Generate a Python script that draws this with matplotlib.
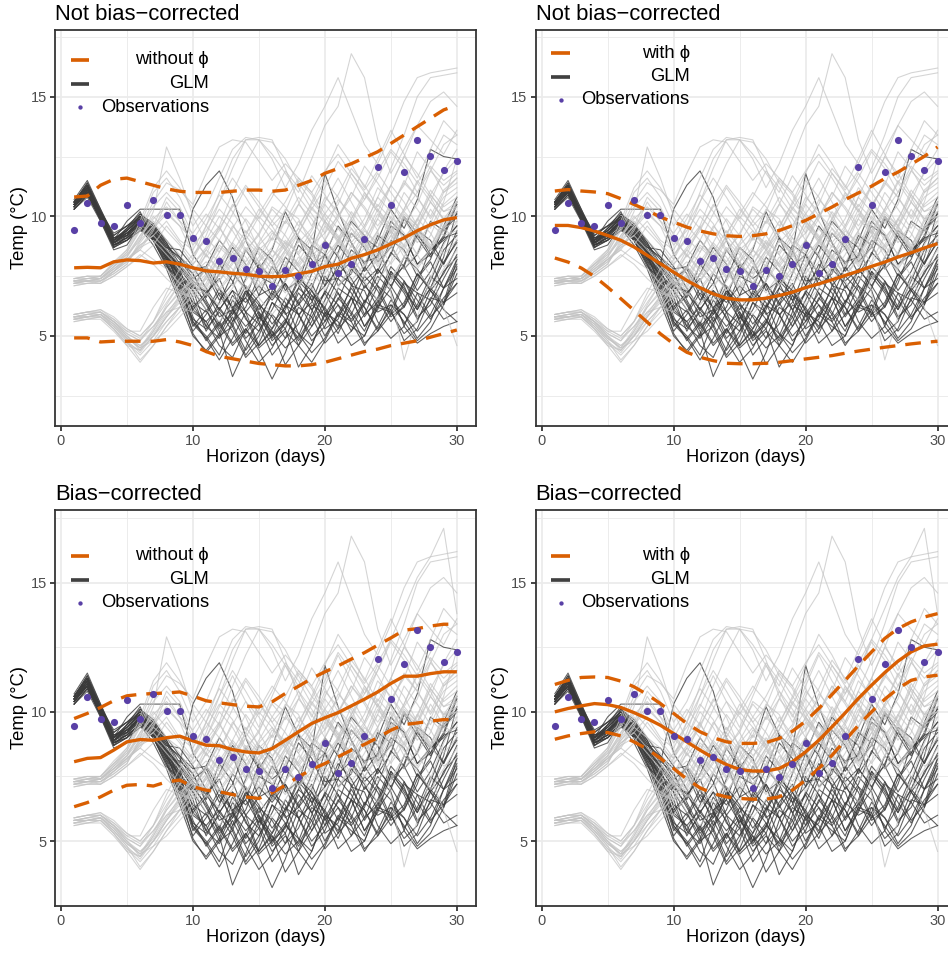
import matplotlib
matplotlib.use("Agg")
import matplotlib.pyplot as plt
from matplotlib.lines import Line2D

plt.rcParams['font.family'] = ['Liberation Sans', 'DejaVu Sans']

W, H, DPI = 948, 953, 120

# ---------------------------------------------------------------- data
days = list(range(1, 31))

obs = [9.44, 10.56, 9.72, 9.61, 10.47, 9.72, 10.70, 10.04, 10.04, 9.08,
       8.95, 8.13, 8.24, 7.80, 7.71, 7.07, 7.77, 7.49, 7.99, 8.80,
       7.63, 8.02, 9.05, 12.06, 10.49, 11.85, 13.18, 12.52, 11.94, 12.30]

# EMOS forecasts: mean and 95% bounds
raw_nophi_mean = [7.85, 7.87, 7.85, 8.10, 8.18, 8.15, 8.05, 8.10, 8.00, 7.85,
                  7.72, 7.68, 7.62, 7.58, 7.50, 7.48, 7.50, 7.60, 7.70, 7.90,
                  8.00, 8.25, 8.40, 8.60, 8.85, 9.10, 9.40, 9.65, 9.85, 9.95]
raw_nophi_hi = [10.81, 10.85, 11.30, 11.55, 11.60, 11.45, 11.30, 11.15, 11.05, 11.00,
                11.00, 11.00, 11.05, 11.10, 11.10, 11.05, 11.10, 11.30, 11.50, 11.80,
                12.00, 12.20, 12.45, 12.70, 13.05, 13.40, 13.75, 14.10, 14.45, 14.65]
raw_nophi_lo = [4.92, 4.92, 4.75, 4.78, 4.78, 4.78, 4.78, 4.85, 4.75, 4.60,
                4.35, 4.15, 4.05, 3.95, 3.85, 3.80, 3.75, 3.75, 3.80, 3.90,
                4.05, 4.20, 4.35, 4.45, 4.60, 4.70, 4.80, 4.95, 5.10, 5.25]

raw_phi_mean = [9.62, 9.62, 9.53, 9.39, 9.20, 9.00, 8.72, 8.37, 8.02, 7.67,
                7.32, 7.02, 6.76, 6.58, 6.51, 6.51, 6.58, 6.69, 6.83, 7.02,
                7.18, 7.35, 7.53, 7.71, 7.91, 8.09, 8.30, 8.48, 8.68, 8.86]
raw_phi_hi = [11.06, 11.12, 11.06, 11.02, 10.95, 10.74, 10.50, 10.25, 9.97, 9.76,
              9.55, 9.39, 9.27, 9.19, 9.16, 9.19, 9.27, 9.41, 9.61, 9.83,
              10.11, 10.39, 10.70, 10.98, 11.26, 11.58, 11.85, 12.18, 12.51, 12.90]
raw_phi_lo = [8.26, 8.09, 7.84, 7.49, 7.04, 6.56, 6.07, 5.58, 5.09, 4.67,
              4.32, 4.11, 3.97, 3.86, 3.84, 3.84, 3.86, 3.90, 3.97, 4.04,
              4.11, 4.18, 4.28, 4.37, 4.45, 4.53, 4.60, 4.67, 4.73, 4.78]

bc_nophi_mean = [8.07, 8.20, 8.23, 8.52, 8.84, 8.93, 8.90, 9.00, 9.06, 8.88,
                 8.71, 8.69, 8.54, 8.45, 8.41, 8.58, 8.90, 9.23, 9.55, 9.77,
                 9.97, 10.23, 10.49, 10.77, 11.10, 11.38, 11.38, 11.48, 11.55, 11.55]
bc_nophi_hi = [9.74, 9.94, 10.17, 10.43, 10.62, 10.68, 10.71, 10.73, 10.77, 10.61,
               10.43, 10.35, 10.28, 10.22, 10.19, 10.39, 10.71, 10.99, 11.29, 11.55,
               11.78, 12.04, 12.29, 12.58, 12.86, 13.16, 13.22, 13.32, 13.39, 13.39]
bc_nophi_lo = [6.33, 6.49, 6.71, 6.97, 7.16, 7.19, 7.13, 7.29, 7.36, 7.10,
               6.97, 6.91, 6.80, 6.71, 6.65, 6.87, 7.16, 7.49, 7.77, 8.00,
               8.26, 8.52, 8.74, 9.00, 9.29, 9.51, 9.57, 9.64, 9.70, 9.70]

bc_phi_mean = [10.00, 10.13, 10.23, 10.32, 10.28, 10.17, 9.97, 9.74, 9.48, 9.16,
               8.84, 8.52, 8.22, 7.96, 7.77, 7.71, 7.71, 7.81, 8.07, 8.45,
               8.90, 9.42, 9.96, 10.52, 11.03, 11.52, 11.96, 12.32, 12.55, 12.62]
bc_phi_hi = [11.06, 11.22, 11.33, 11.35, 11.33, 11.19, 10.97, 10.67, 10.32, 9.94,
             9.55, 9.23, 9.00, 8.84, 8.78, 8.78, 8.81, 8.97, 9.25, 9.64,
             10.13, 10.67, 11.22, 11.78, 12.32, 12.84, 13.22, 13.48, 13.67, 13.80]
bc_phi_lo = [8.94, 9.07, 9.16, 9.23, 9.20, 9.07, 8.84, 8.56, 8.20, 7.81,
             7.40, 7.06, 6.84, 6.71, 6.65, 6.62, 6.62, 6.71, 6.97, 7.36,
             7.81, 8.32, 8.90, 9.48, 10.00, 10.49, 10.90, 11.22, 11.35, 11.42]

# GLM-driven ensemble members (dark)
glm_members = [
    [10.5, 11.2, 10.0, 8.9, 9.2, 9.8, 9.3, 8.4, 7.2, 5.6, 5.0, 4.2, 5.6, 6.8, 5.9, 4.8, 5.3, 6.5, 7.2, 6.0, 5.1, 6.3, 7.5, 6.9, 5.8, 6.2, 7.4, 8.1, 7.0, 8.2],
    [10.4, 11.0, 9.8, 8.7, 9.0, 9.6, 9.1, 8.1, 6.8, 6.2, 6.8, 7.4, 6.1, 4.9, 5.5, 6.9, 6.4, 5.1, 4.6, 5.9, 6.8, 6.0, 5.2, 6.5, 7.7, 6.9, 6.1, 7.3, 8.6, 9.2],
    [10.6, 11.4, 10.2, 9.0, 9.4, 10.0, 9.6, 8.8, 7.6, 6.0, 5.6, 4.6, 4.1, 5.3, 4.4, 3.2, 4.3, 5.8, 6.9, 6.1, 5.4, 6.6, 7.9, 7.1, 5.9, 6.4, 7.6, 6.9, 6.3, 7.9],
    [10.3, 10.9, 9.9, 8.8, 9.5, 10.2, 9.0, 7.9, 7.4, 6.9, 6.1, 5.2, 3.3, 4.5, 5.8, 5.2, 3.8, 4.6, 6.0, 7.5, 6.8, 5.6, 6.3, 7.8, 7.1, 6.2, 7.2, 8.7, 8.0, 9.4],
    [10.7, 11.5, 10.3, 9.2, 9.6, 9.9, 9.4, 8.6, 7.4, 5.8, 4.8, 5.5, 6.7, 6.0, 4.6, 5.3, 6.6, 5.9, 5.0, 5.6, 7.0, 6.6, 5.4, 6.1, 7.6, 7.0, 6.1, 7.0, 8.3, 10.2],
    [10.5, 11.1, 10.1, 9.1, 9.3, 9.7, 9.5, 8.9, 8.0, 10.3, 11.3, 11.9, 10.8, 9.0, 7.8, 8.6, 10.2, 9.1, 7.9, 8.4, 9.6, 8.9, 8.0, 9.0, 10.3, 9.5, 10.7, 12.8, 12.5, 12.4],
    [10.4, 11.0, 10.0, 9.0, 9.8, 10.3, 10.3, 10.3, 10.3, 8.4, 7.6, 6.5, 7.2, 8.6, 7.8, 6.6, 7.3, 8.8, 8.2, 7.1, 7.8, 9.3, 8.7, 7.6, 8.4, 9.9, 9.1, 8.3, 9.1, 10.5],
    [10.6, 11.3, 10.1, 8.9, 9.1, 9.5, 8.8, 7.8, 6.4, 5.0, 4.4, 5.1, 6.5, 5.8, 4.5, 5.0, 6.3, 5.9, 4.8, 5.4, 6.6, 5.9, 4.7, 5.2, 6.3, 5.6, 4.8, 5.3, 6.3, 7.6],
    [10.5, 11.2, 10.0, 8.8, 9.0, 9.4, 9.2, 8.2, 8.1, 7.6, 6.6, 8.0, 7.3, 6.0, 6.7, 7.9, 7.1, 5.9, 6.4, 7.8, 8.8, 8.1, 7.0, 7.7, 9.0, 8.6, 7.5, 8.2, 9.6, 10.8],
    [10.3, 10.8, 9.8, 8.6, 8.8, 9.6, 9.0, 8.0, 6.9, 5.7, 5.3, 6.0, 5.2, 4.1, 4.7, 5.9, 5.3, 3.7, 4.6, 6.0, 5.6, 4.6, 5.0, 6.3, 6.1, 4.8, 5.3, 6.6, 6.4, 6.8],
    [10.6, 11.3, 10.2, 9.3, 9.6, 10.0, 9.3, 8.5, 7.3, 6.1, 6.7, 7.6, 8.7, 8.0, 6.7, 7.0, 8.3, 7.7, 6.5, 7.1, 8.5, 9.8, 9.2, 8.1, 8.7, 10.0, 9.3, 8.4, 9.2, 10.6],
    [10.4, 11.1, 10.0, 8.8, 9.1, 9.8, 9.2, 8.3, 7.1, 5.5, 4.9, 4.0, 4.9, 6.0, 5.5, 4.2, 4.9, 6.2, 5.8, 4.7, 5.3, 6.6, 6.2, 5.2, 5.9, 7.2, 6.8, 5.8, 6.4, 8.2],
    [10.5, 11.0, 9.9, 8.7, 9.2, 10.1, 9.6, 8.7, 8.3, 7.8, 7.9, 7.0, 5.6, 6.2, 7.5, 7.2, 5.9, 6.3, 7.6, 9.0, 8.3, 7.1, 7.8, 9.2, 8.8, 7.8, 8.4, 9.8, 9.4, 10.0],
    [10.6, 11.4, 10.3, 9.1, 9.4, 9.9, 9.4, 8.4, 7.0, 5.4, 6.1, 5.0, 5.4, 6.9, 6.3, 5.0, 5.5, 7.0, 6.5, 5.3, 5.7, 7.1, 6.9, 5.6, 4.9, 5.4, 6.8, 6.5, 5.7, 6.0],
    [10.4, 11.0, 9.9, 8.9, 9.3, 9.7, 9.1, 8.2, 7.6, 7.0, 6.9, 5.8, 6.1, 7.4, 8.7, 8.2, 6.9, 7.3, 8.8, 8.4, 7.1, 7.6, 9.1, 8.7, 7.4, 7.9, 9.4, 9.0, 8.0, 9.0],
    [10.5, 11.2, 10.1, 9.0, 9.5, 10.0, 9.5, 8.6, 7.5, 6.1, 5.6, 6.2, 5.4, 4.2, 5.0, 6.4, 6.0, 4.6, 3.9, 4.8, 5.9, 5.4, 5.0, 6.2, 6.0, 5.1, 5.6, 6.9, 6.1, 5.6],
    [10.6, 11.3, 10.1, 9.0, 9.2, 9.6, 9.0, 8.0, 6.6, 5.2, 5.9, 6.8, 6.2, 6.6, 8.0, 7.4, 7.8, 9.1, 8.6, 7.3, 7.4, 8.6, 8.1, 8.3, 9.6, 9.2, 8.0, 8.4, 9.5, 10.1],
    [10.3, 10.9, 9.9, 8.8, 9.0, 9.6, 9.2, 8.3, 7.2, 5.6, 4.9, 5.6, 4.7, 5.3, 4.6, 5.2, 4.5, 5.0, 6.3, 5.9, 4.7, 5.2, 6.5, 6.0, 6.3, 5.9, 4.9, 5.6, 7.0, 7.8],
    [10.5, 11.1, 10.0, 8.9, 9.4, 9.9, 9.4, 8.5, 8.0, 7.3, 6.8, 6.1, 6.9, 6.4, 7.1, 6.5, 7.2, 6.3, 7.0, 8.4, 7.6, 8.1, 7.3, 7.8, 7.1, 8.0, 9.2, 8.6, 9.0, 9.6],
    [10.6, 11.2, 10.2, 9.2, 9.6, 10.1, 9.7, 8.9, 7.8, 6.3, 5.4, 6.4, 7.6, 7.0, 5.6, 4.6, 5.2, 4.6, 5.4, 6.5, 7.6, 7.2, 5.9, 6.4, 7.7, 7.1, 5.8, 6.3, 7.4, 8.4],
    [10.4, 11.0, 10.1, 9.0, 9.3, 9.8, 9.3, 8.4, 7.9, 7.0, 7.9, 9.0, 8.3, 7.0, 6.1, 6.8, 6.2, 7.0, 8.5, 11.8, 10.2, 8.9, 7.7, 8.4, 9.8, 9.2, 8.0, 8.6, 9.1, 9.3],
    [10.5, 11.2, 10.0, 8.9, 9.3, 9.8, 9.2, 8.2, 6.9, 5.1, 4.3, 5.0, 6.1, 5.4, 6.0, 5.3, 6.1, 7.3, 6.7, 5.6, 6.3, 5.7, 6.4, 7.5, 6.9, 5.4, 4.7, 5.1, 5.4, 5.6],
    [10.5, 11.1, 10.0, 8.8, 9.1, 9.5, 9.0, 8.6, 7.9, 7.2, 6.3, 5.4, 6.0, 7.1, 6.4, 5.5, 6.2, 7.4, 6.9, 5.8, 6.5, 7.8, 7.2, 6.2, 7.0, 8.3, 7.8, 6.9, 7.6, 8.7],
    [10.4, 11.0, 9.9, 8.7, 9.0, 9.4, 9.6, 9.0, 8.3, 7.6, 6.5, 5.5, 4.6, 5.2, 6.3, 5.8, 4.9, 5.5, 6.7, 6.2, 5.3, 5.9, 7.1, 6.5, 5.6, 6.3, 7.6, 7.0, 6.4, 7.2],
    [10.6, 11.3, 10.2, 9.1, 9.2, 9.9, 9.0, 8.1, 7.6, 6.9, 5.4, 4.9, 5.8, 4.8, 3.9, 4.5, 5.6, 5.1, 4.3, 4.9, 6.0, 5.6, 4.6, 5.4, 6.5, 5.9, 5.2, 5.9, 7.0, 7.4],
    [10.5, 11.2, 10.1, 8.9, 9.2, 9.8, 9.5, 8.8, 8.2, 7.4, 7.8, 6.7, 5.9, 6.6, 5.7, 6.7, 7.8, 7.2, 6.1, 6.8, 8.0, 7.4, 6.4, 7.2, 8.5, 7.9, 6.9, 7.7, 8.9, 9.6],
    [10.3, 10.9, 9.9, 8.9, 9.3, 9.6, 9.1, 8.3, 7.7, 6.6, 5.2, 6.1, 5.5, 4.4, 5.2, 6.4, 5.7, 4.8, 5.6, 6.9, 6.3, 5.2, 5.9, 7.1, 6.6, 5.5, 6.3, 7.5, 7.0, 8.0],
    [10.6, 11.3, 10.1, 9.0, 9.5, 10.0, 9.4, 8.7, 8.6, 7.9, 7.0, 6.1, 6.9, 5.7, 5.2, 6.1, 7.2, 6.4, 5.4, 6.2, 7.4, 6.8, 5.8, 6.6, 7.9, 7.3, 6.2, 7.0, 8.1, 8.9],
    [10.5, 11.0, 10.0, 8.8, 9.1, 9.7, 9.3, 8.5, 7.4, 6.4, 6.0, 7.0, 6.2, 5.1, 5.9, 4.9, 5.6, 6.8, 6.1, 5.0, 5.9, 7.0, 6.2, 5.3, 6.1, 7.3, 6.5, 5.7, 6.6, 7.2],
    [10.4, 11.1, 10.0, 9.0, 9.4, 9.9, 9.2, 8.6, 7.8, 7.1, 6.4, 5.3, 5.9, 6.9, 6.0, 5.0, 5.7, 4.9, 5.8, 6.8, 5.8, 6.6, 5.4, 6.3, 7.5, 6.8, 5.7, 6.5, 7.7, 8.3],
]

# NWP ensemble members (light)
ens_members = [
    [7.3, 7.3, 7.4, 7.8, 8.2, 8.6, 9.4, 10.6, 9.8, 8.8, 9.4, 10.3, 9.7, 8.6, 9.2, 10.4, 10.0, 8.9, 9.5, 10.8, 10.2, 9.1, 9.9, 11.2, 10.6, 9.7, 10.5, 11.9, 11.3, 11.8],
    [7.2, 7.3, 7.3, 7.6, 8.0, 9.0, 10.2, 12.9, 11.6, 10.0, 8.9, 9.6, 8.5, 7.9, 8.8, 9.4, 8.7, 8.0, 8.7, 9.8, 9.1, 8.2, 8.9, 10.1, 9.4, 8.6, 9.5, 10.6, 9.9, 10.2],
    [7.4, 7.5, 7.4, 7.9, 8.4, 9.2, 9.8, 9.0, 8.4, 7.6, 8.6, 9.4, 10.5, 9.8, 8.6, 9.1, 10.3, 9.9, 8.8, 9.3, 10.7, 10.1, 9.0, 9.9, 11.3, 10.6, 9.6, 10.6, 11.9, 12.8],
    [7.1, 7.2, 7.2, 7.5, 7.9, 8.4, 8.0, 7.4, 6.9, 6.6, 7.4, 8.3, 7.8, 6.9, 7.6, 8.6, 8.1, 7.1, 7.7, 8.9, 8.4, 7.3, 8.0, 9.3, 8.8, 7.8, 8.5, 9.7, 9.2, 9.4],
    [7.3, 7.4, 7.5, 8.1, 8.6, 9.6, 11.0, 11.6, 10.8, 9.6, 10.4, 11.6, 12.8, 13.3, 13.2, 12.4, 11.2, 12.2, 13.6, 14.6, 15.8, 14.4, 13.0, 12.2, 13.4, 14.8, 15.8, 16.0, 16.1, 16.2],
    [7.2, 7.3, 7.2, 7.7, 8.1, 8.8, 9.2, 8.6, 8.0, 7.4, 7.0, 7.9, 8.8, 8.0, 7.1, 7.9, 9.0, 8.4, 7.6, 8.5, 9.5, 8.9, 7.9, 8.7, 10.0, 9.3, 8.4, 9.2, 10.5, 11.0],
    [7.4, 7.4, 7.5, 8.0, 8.5, 9.4, 10.4, 11.0, 10.4, 9.2, 8.3, 9.0, 10.1, 11.2, 10.4, 9.6, 10.2, 11.5, 10.9, 9.8, 10.5, 11.8, 11.0, 10.2, 11.3, 12.5, 13.8, 13.2, 12.6, 13.6],
    [7.3, 7.3, 7.4, 7.7, 8.2, 8.6, 8.2, 7.8, 7.2, 6.8, 7.5, 7.0, 7.7, 8.7, 8.1, 7.2, 7.9, 9.0, 8.4, 7.4, 8.1, 9.3, 8.8, 7.9, 8.7, 10.0, 9.5, 8.6, 9.4, 10.6],
    [7.2, 7.2, 7.3, 7.6, 8.0, 8.9, 9.6, 10.2, 9.6, 8.4, 9.0, 10.0, 9.4, 8.5, 9.3, 10.3, 9.7, 10.5, 11.7, 10.9, 10.0, 10.8, 12.1, 11.4, 10.5, 11.3, 12.7, 12.0, 11.0, 11.6],
    [7.3, 7.4, 7.4, 7.9, 8.3, 9.2, 10.0, 9.4, 8.8, 8.0, 8.6, 8.1, 8.9, 9.9, 9.2, 8.3, 8.9, 8.5, 9.4, 10.5, 9.8, 8.9, 9.6, 10.8, 10.2, 9.1, 9.8, 11.1, 10.4, 10.8],
    [7.1, 7.2, 7.2, 7.5, 7.9, 8.3, 8.8, 9.6, 8.9, 8.2, 9.6, 11.0, 12.4, 13.2, 13.2, 12.6, 11.8, 11.0, 12.4, 13.8, 14.6, 16.8, 15.8, 13.2, 11.8, 12.8, 13.8, 14.8, 15.2, 14.6],
    [7.4, 7.5, 7.5, 8.0, 8.4, 9.0, 9.6, 10.8, 10.2, 9.0, 8.4, 7.8, 8.5, 9.4, 8.7, 8.0, 8.8, 9.8, 9.1, 8.3, 9.0, 10.2, 9.5, 8.7, 9.7, 11.0, 10.3, 9.5, 10.6, 12.4],
    [7.3, 7.3, 7.4, 7.8, 8.2, 8.8, 9.2, 9.8, 9.0, 8.6, 9.6, 9.0, 8.3, 9.0, 10.0, 9.4, 8.6, 9.3, 10.3, 9.8, 9.0, 9.7, 10.9, 10.2, 9.3, 10.3, 11.4, 10.6, 9.9, 10.0],
    [7.2, 7.3, 7.3, 7.7, 8.1, 8.7, 9.0, 8.4, 7.8, 7.2, 7.8, 8.7, 8.2, 7.4, 8.1, 9.1, 8.6, 7.7, 8.4, 9.6, 9.0, 8.0, 8.7, 9.9, 9.3, 8.3, 9.1, 10.3, 9.5, 9.0],
    [7.3, 7.4, 7.4, 7.9, 8.5, 9.5, 10.6, 11.4, 11.1, 10.5, 11.8, 12.9, 13.2, 13.1, 12.3, 11.5, 12.2, 11.6, 11.0, 11.9, 12.6, 11.8, 11.1, 11.9, 12.8, 12.2, 11.4, 12.3, 13.4, 13.0],
    [7.2, 7.3, 7.3, 7.7, 8.2, 8.7, 9.5, 10.1, 9.6, 9.0, 9.9, 10.9, 10.2, 9.3, 10.1, 11.0, 10.4, 9.6, 10.5, 11.5, 10.8, 9.9, 10.7, 11.8, 11.0, 10.2, 11.0, 12.1, 11.5, 11.9],
    [7.3, 7.3, 7.4, 7.8, 8.3, 9.1, 9.9, 10.4, 9.8, 9.3, 10.1, 9.5, 10.4, 11.3, 10.6, 9.8, 10.6, 11.6, 11.0, 10.1, 10.9, 12.0, 11.3, 10.4, 11.3, 12.5, 11.8, 10.9, 11.8, 12.4],
    [7.4, 7.5, 7.5, 8.0, 8.6, 9.8, 11.2, 11.9, 11.2, 10.3, 9.6, 10.6, 11.6, 10.8, 9.9, 10.8, 11.9, 11.2, 10.3, 11.2, 12.3, 11.6, 10.7, 11.6, 12.7, 12.0, 11.0, 11.9, 13.0, 13.4],
    [5.8, 5.9, 6.0, 5.6, 5.0, 4.6, 5.0, 5.6, 6.2, 7.0, 7.8, 8.8, 8.3, 7.5, 8.3, 9.3, 8.9, 7.9, 8.6, 9.8, 9.2, 8.3, 9.1, 10.3, 9.6, 8.7, 9.6, 10.9, 10.2, 10.4],
    [5.7, 5.8, 5.9, 5.4, 4.8, 4.0, 4.6, 5.4, 6.0, 6.8, 7.4, 6.9, 7.6, 8.6, 8.0, 7.2, 8.0, 9.0, 8.5, 7.6, 8.4, 9.5, 8.9, 8.0, 8.8, 10.1, 9.6, 8.7, 9.8, 10.0],
    [5.9, 6.0, 6.1, 5.8, 5.3, 5.0, 5.6, 6.4, 7.2, 7.6, 8.4, 7.7, 7.1, 7.8, 8.7, 8.1, 7.3, 8.1, 9.1, 8.5, 7.6, 8.3, 9.4, 8.9, 8.0, 8.8, 9.9, 9.3, 8.4, 9.0],
    [5.6, 5.7, 5.8, 5.4, 4.9, 4.5, 5.2, 6.0, 6.6, 7.2, 6.7, 7.3, 8.3, 7.7, 6.9, 7.5, 8.5, 7.9, 7.1, 7.9, 9.0, 8.4, 7.5, 8.3, 9.4, 8.8, 7.9, 8.7, 9.9, 10.6],
    [5.8, 5.9, 6.0, 5.7, 5.2, 5.2, 6.2, 7.0, 6.8, 6.6, 7.5, 8.5, 9.6, 9.0, 8.1, 8.7, 9.8, 9.2, 8.3, 9.0, 10.1, 9.5, 8.6, 9.4, 10.6, 9.9, 8.9, 9.7, 11.0, 11.4],
    [5.7, 5.8, 5.8, 5.3, 4.7, 4.2, 4.8, 5.6, 6.2, 6.0, 6.8, 6.3, 7.0, 7.9, 7.3, 6.6, 7.3, 8.3, 7.8, 6.9, 7.7, 8.8, 8.1, 7.3, 8.1, 9.2, 8.4, 7.5, 6.2, 4.6],
    [5.9, 6.0, 6.0, 5.6, 5.1, 4.8, 5.4, 6.2, 6.8, 7.4, 8.4, 9.6, 11.0, 12.2, 13.2, 13.1, 12.4, 11.4, 10.6, 11.8, 13.0, 12.2, 11.2, 12.4, 13.6, 12.6, 11.6, 12.8, 14.0, 13.4],
    [5.8, 5.8, 5.9, 5.5, 5.0, 4.4, 5.0, 5.8, 6.4, 7.0, 6.1, 5.6, 6.3, 7.1, 6.6, 5.9, 6.6, 7.5, 7.0, 6.3, 7.0, 7.9, 7.3, 6.5, 7.3, 8.3, 7.7, 7.0, 7.8, 8.6],
    [5.6, 5.7, 5.7, 5.2, 4.6, 4.4, 5.0, 5.8, 6.6, 7.4, 7.9, 7.3, 8.1, 9.2, 10.3, 9.6, 8.7, 9.5, 10.6, 10.0, 9.1, 9.9, 11.0, 10.3, 9.4, 10.3, 11.5, 10.8, 9.8, 10.4],
    [5.8, 5.9, 5.9, 5.6, 5.2, 4.9, 5.4, 6.0, 6.2, 6.6, 7.2, 8.3, 7.6, 6.9, 7.7, 8.6, 7.9, 7.1, 7.9, 9.0, 8.4, 7.6, 8.4, 9.4, 6.8, 4.0, 5.8, 7.4, 8.8, 9.8],
    [5.7, 5.8, 5.9, 5.5, 4.9, 4.5, 4.8, 5.2, 5.8, 6.4, 7.1, 7.9, 8.9, 8.3, 7.4, 8.2, 9.3, 10.5, 9.9, 9.0, 9.9, 11.0, 10.3, 9.4, 10.3, 11.5, 10.8, 10.0, 11.1, 11.6],
    [5.9, 6.0, 6.1, 5.7, 5.3, 5.0, 5.6, 6.6, 7.4, 8.2, 9.2, 10.6, 12.0, 13.2, 13.3, 13.2, 12.0, 10.6, 9.6, 10.6, 11.6, 10.6, 9.6, 10.8, 12.0, 13.4, 15.0, 15.8, 15.9, 16.0],
    [5.8, 5.8, 5.9, 5.4, 4.8, 4.3, 5.0, 5.8, 6.5, 7.0, 7.6, 7.0, 6.5, 7.3, 8.1, 7.4, 6.8, 7.6, 8.6, 7.9, 7.1, 7.9, 9.0, 8.3, 7.4, 8.3, 9.4, 8.7, 7.9, 8.2],
    [5.7, 5.7, 5.8, 5.3, 4.6, 3.9, 4.6, 5.4, 6.2, 7.0, 7.9, 7.3, 8.0, 9.0, 8.4, 7.6, 8.3, 9.3, 10.4, 9.7, 8.9, 9.7, 8.9, 8.1, 9.0, 10.0, 9.3, 8.6, 9.5, 9.8],
    [5.8, 5.9, 6.0, 5.6, 5.1, 4.8, 5.6, 6.8, 7.8, 8.4, 9.1, 8.5, 9.5, 10.4, 9.8, 9.0, 9.8, 10.8, 10.1, 9.3, 10.0, 11.0, 10.4, 9.6, 10.4, 11.4, 10.8, 9.9, 10.8, 11.2],
    [5.7, 5.8, 5.8, 5.3, 4.7, 4.4, 5.2, 6.2, 6.9, 7.3, 6.9, 7.6, 8.4, 7.8, 7.0, 7.7, 8.6, 8.0, 7.3, 8.0, 8.9, 8.3, 7.5, 8.2, 9.2, 8.5, 7.8, 8.6, 9.6, 10.2],
    [5.9, 6.0, 6.0, 5.6, 5.0, 4.5, 5.3, 6.3, 7.2, 8.0, 8.7, 9.5, 8.8, 8.1, 8.9, 9.8, 9.2, 8.4, 9.2, 10.1, 9.5, 8.7, 9.5, 10.5, 9.9, 9.0, 9.9, 10.9, 10.2, 10.6],
    [5.8, 5.8, 5.9, 5.5, 4.9, 4.6, 5.1, 5.9, 6.7, 7.6, 8.1, 7.5, 8.3, 9.2, 8.5, 7.8, 8.6, 9.5, 8.9, 8.1, 8.9, 9.9, 9.2, 8.4, 9.2, 10.2, 9.6, 8.8, 9.6, 10.0],
]

# member present in the bias-corrected ensemble only
ens_bc_extra = [7.3, 7.4, 7.4, 7.8, 8.3, 8.9, 9.4, 9.0, 8.6, 8.2, 9.0, 10.2, 11.4, 10.4, 9.4,
                10.6, 11.8, 10.8, 9.8, 11.0, 12.2, 11.2, 10.4, 11.6, 12.8, 14.0, 15.2, 16.0, 17.1, 13.8]

titles = ["Not bias\u2212corrected", "Not bias\u2212corrected", "Bias\u2212corrected", "Bias\u2212corrected"]
labels = ["without \u03d5", "with \u03d5", "without \u03d5", "with \u03d5"]

# ---------------------------------------------------------------- style
ORANGE = "#D95F02"
PURPLE = "#5940A6"
DARK = "#3a3a3a"
LIGHT = "#c4c4c4"
GRID = "#ebebeb"
FRAME = "#333333"
TICKTXT = "#4d4d4d"

fig = plt.figure(figsize=(W / DPI, H / DPI), dpi=DPI)


def fx(x):
    return x / W


def fy(y):
    return 1 - y / H


def add_panel(left, top, ylim, title, label, mean, hi, lo, extra, rows):
    width, height = 421.0, 395.7
    ax = fig.add_axes([fx(left), fy(top + height), width / W, height / H])
    ax.set_xlim(-0.45, 31.45)
    ax.set_ylim(*ylim)
    ax.set_xticks([0, 10, 20, 30])
    ax.set_xticks([5, 15, 25], minor=True)
    ax.set_yticks([5, 10, 15])
    ax.set_yticks([2.5, 7.5, 12.5, 17.5], minor=True)
    ax.grid(which="major", color=GRID, lw=1.07, zorder=0)
    ax.grid(which="minor", color=GRID, lw=0.55, zorder=0)
    ax.set_axisbelow(True)
    for s in ax.spines.values():
        s.set_color(FRAME)
        s.set_linewidth(1.07)
    ax.tick_params(which="major", length=2.75, width=1.07, color=FRAME, pad=2.2,
                   labelsize=8.8, labelcolor=TICKTXT)
    ax.tick_params(which="minor", length=0)

    # GLM members underneath, raw ensemble members semi-transparent on top
    for m in glm_members:
        ax.plot(days, m, color=DARK, lw=0.65, alpha=0.8, zorder=2)
    for m in ens_members:
        ax.plot(days, m, color=LIGHT, lw=0.65, alpha=0.72, zorder=3)
    if extra:
        ax.plot(days, ens_bc_extra, color=LIGHT, lw=0.65, alpha=0.72, zorder=3)

    ax.plot(days, mean, color=ORANGE, lw=2.0, zorder=4, solid_capstyle="butt")
    for band in (hi, lo):
        ax.plot(days, band, color=ORANGE, lw=2.0, zorder=4, dashes=(4.7, 3.0),
                dash_capstyle="butt")
    ax.plot(days, obs, "o", color=PURPLE, ms=4.3, mec="none", zorder=5)

    # titles and axis labels
    fig.text(fx(left), fy(top - 10.5), title, fontsize=13.2, va="baseline", ha="left")
    fig.text(fx(left + 210.5), fy(top + height + 32), "Horizon (days)",
             fontsize=11, ha="center", va="center")
    fig.text(fx(left - 35.5), fy(top + height / 2), "Temp (\u00b0C)",
             fontsize=11, ha="center", va="center", rotation=90)

    # legend
    kx0, kx1, tr = left + 15.7, left + 34.3, left + 154.0
    fig.add_artist(Line2D([fx(kx0), fx(kx1)], [fy(rows[0])] * 2, transform=fig.transFigure,
                          color=ORANGE, lw=2.2, solid_capstyle="butt"))
    fig.add_artist(Line2D([fx(kx0), fx(kx1)], [fy(rows[1])] * 2, transform=fig.transFigure,
                          color="#404040", lw=2.2, solid_capstyle="butt"))
    fig.add_artist(Line2D([fx((kx0 + kx1) / 2)], [fy(rows[2])], transform=fig.transFigure,
                          marker="o", ls="none", color=PURPLE, ms=2.6, mec="none"))
    for txt, r in zip([label, "GLM", "Observations"], rows):
        fig.text(fx(tr), fy(r), txt, fontsize=11, ha="right", va="center")
    return ax


add_panel(55.0, 30.0, (1.25, 17.79), titles[0], labels[0],
          raw_nophi_mean, raw_nophi_hi, raw_nophi_lo, False, (60.0, 84.0, 107.0))
add_panel(535.7, 30.0, (1.25, 17.79), titles[1], labels[1],
          raw_phi_mean, raw_phi_hi, raw_phi_lo, False, (53.0, 76.5, 99.5))
add_panel(55.0, 510.0, (2.50, 17.81), titles[2], labels[2],
          bc_nophi_mean, bc_nophi_hi, bc_nophi_lo, True, (556.0, 580.0, 602.7))
add_panel(535.7, 510.0, (2.50, 17.81), titles[3], labels[3],
          bc_phi_mean, bc_phi_hi, bc_phi_lo, True, (556.0, 580.0, 602.7))

fig.savefig("out.png", dpi=DPI)
